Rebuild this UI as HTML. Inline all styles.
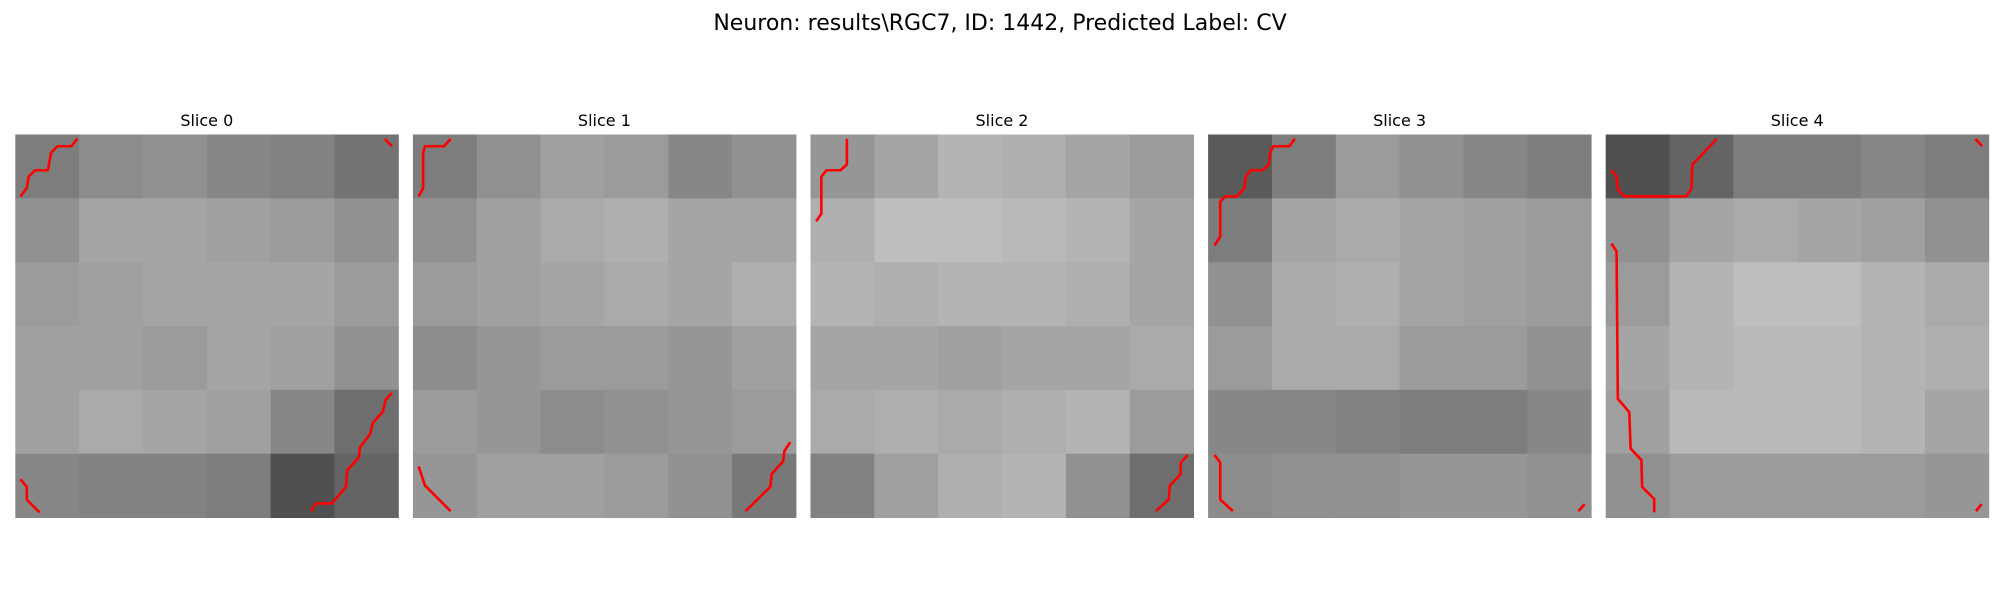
<!DOCTYPE html>
<html><head><meta charset="utf-8"><style>
html,body{margin:0;padding:0;background:#fff;width:2000px;height:600px;overflow:hidden;font-family:"Liberation Sans","DejaVu Sans",sans-serif}
</style></head><body>
<svg id="fig" width="2000" height="600" xmlns="http://www.w3.org/2000/svg">
<text x="1000" y="30" text-anchor="middle" font-size="22" font-family="DejaVu Sans, Liberation Sans, sans-serif">Neuron: results\RGC7, ID: 1442, Predicted Label: CV</text>
</svg>
<script>
const sliceTitles = ["Slice 0","Slice 1","Slice 2","Slice 3","Slice 4"];
const slice0 = [[125,140,145,135,130,115],[145,165,165,160,155,145],[155,160,165,165,165,155],[160,160,155,165,160,145],[160,170,165,160,135,110],[135,130,130,125,80,100]];
const slice1 = [[125,145,160,155,135,145],[145,160,170,175,165,165],[155,160,165,170,165,175],[140,150,155,155,150,160],[155,150,140,145,150,155],[150,160,160,155,145,120]];
const slice2 = [[150,165,180,175,165,155],[175,190,190,185,180,165],[180,175,180,180,175,165],[165,165,160,165,165,170],[170,175,170,175,180,155],[130,160,175,180,145,110]];
const slice3 = [[90,125,155,145,135,125],[125,165,170,165,160,155],[145,170,175,165,160,155],[155,170,170,155,155,145],[135,135,130,125,125,135],[140,145,145,150,150,145]];
const slice4 = [[80,100,125,125,135,125],[145,165,170,165,160,145],[155,180,190,190,180,170],[165,180,185,185,180,175],[160,185,185,185,180,165],[145,155,155,155,155,150]];
const contours0 = [[[4.85,.34],[4.4,.92],[3.3,.92],[2.8,1.44],[2.55,2.8],[1.55,2.8],[1.05,3.3],[.9,4.2],[.4,4.85]],[[28.95,.34],[29.5,.92]],[[.4,27],[.9,27.6],[.9,28.6],[1.9,29.6]],[[29.5,20.25],[29,20.8],[28.8,21.7],[28,22.6],[27.8,23.45],[27,24.5],[26.9,25.3],[26,26.3],[25.9,27.6],[24.8,28.9],[23.55,28.9],[23.15,29.5]]];
const contours1 = [[[2.95,.34],[2.45,.92],[.95,.92],[.8,1.44],[.8,4.2],[.45,4.85]],[[.45,26],[.95,27.5],[2.95,29.5]],[[29.55,24.1],[29.1,24.8],[29,25.6],[28.1,26.6],[28,27.6],[26.05,29.5]]];
const contours2 = [[[2.85,.34],[2.85,2.35],[2.35,2.8],[1.25,2.8],[.85,3.3],[.85,6.2],[.45,6.8]],[[29.55,25.1],[29,25.7],[29,26.6],[28.15,27.5],[28.05,28.6],[27.05,29.5]]];
const contours3 = [[[6.8,.34],[6.35,.92],[5.1,.92],[4.85,1.44],[4.75,2.35],[4.25,2.8],[3.35,2.8],[2.95,3.3],[2.85,4.2],[2.25,4.85],[1.35,4.85],[.95,5.25],[.95,8],[.5,8.7]],[[.5,25.1],[.95,25.7],[.95,28.6],[1.95,29.5]],[[29.5,28.95],[29,29.5]]];
const contours4 = [[[8.7,.34],[6.8,2.35],[6.7,4.3],[6.3,4.85],[1.45,4.85],[.95,4.3],[.85,3.3],[.45,2.8]],[[.45,8.55],[.85,9.15],[.95,20.7],[1.85,21.75],[1.95,24.6],[2.8,25.5],[2.85,27.6],[3.8,28.55],[3.8,29.6]],[[28.95,.34],[29.5,.92]],[[29.45,28.95],[29,29.5]]];
const slices = [slice0,slice1,slice2,slice3,slice4];
const contours = [contours0,contours1,contours2,contours3,contours4];

const NS="http://www.w3.org/2000/svg";
const svg=document.getElementById('fig');
const X0=15.3, STEP=397.6, SIZE=383, Y0=134.5, GRID=30;
for(let s=0;s<slices.length;s++){
  const g=document.createElementNS(NS,'g');
  
  
  const px=X0+s*STEP;
  const t=document.createElementNS(NS,'text');
  
  
  t.setAttribute('x',px+SIZE/2);t.setAttribute('y',126);
  t.setAttribute('text-anchor','middle');t.setAttribute('font-size','16');
  t.setAttribute('font-family','DejaVu Sans, Liberation Sans, sans-serif');
  t.textContent=sliceTitles[s];g.appendChild(t);
  const data=slices[s];const n=data.length;const cs=SIZE/n;
  for(let r=0;r<n;r++)for(let c=0;c<data[r].length;c++){
    const v=data[r][c];
    const rc=document.createElementNS(NS,'rect');
    
    
    rc.setAttribute('x',px+c*cs);rc.setAttribute('y',Y0+r*cs);
    rc.setAttribute('width',cs+0.5);rc.setAttribute('height',cs+0.5);
    rc.setAttribute('fill','rgb('+v+','+v+','+v+')');
    g.appendChild(rc);
  }
  const u=SIZE/GRID;
  for(const line of contours[s]){
    const pl=document.createElementNS(NS,'polyline');
    
    
    pl.setAttribute('points',line.map(p=>(px+p[0]*u)+','+(Y0+p[1]*u)).join(' '));
    pl.setAttribute('fill','none');pl.setAttribute('stroke','#ff0000');
    pl.setAttribute('stroke-width','2.6');pl.setAttribute('stroke-linejoin','round');
    g.appendChild(pl);
  }
  svg.appendChild(g);
}
</script>
</body></html>
